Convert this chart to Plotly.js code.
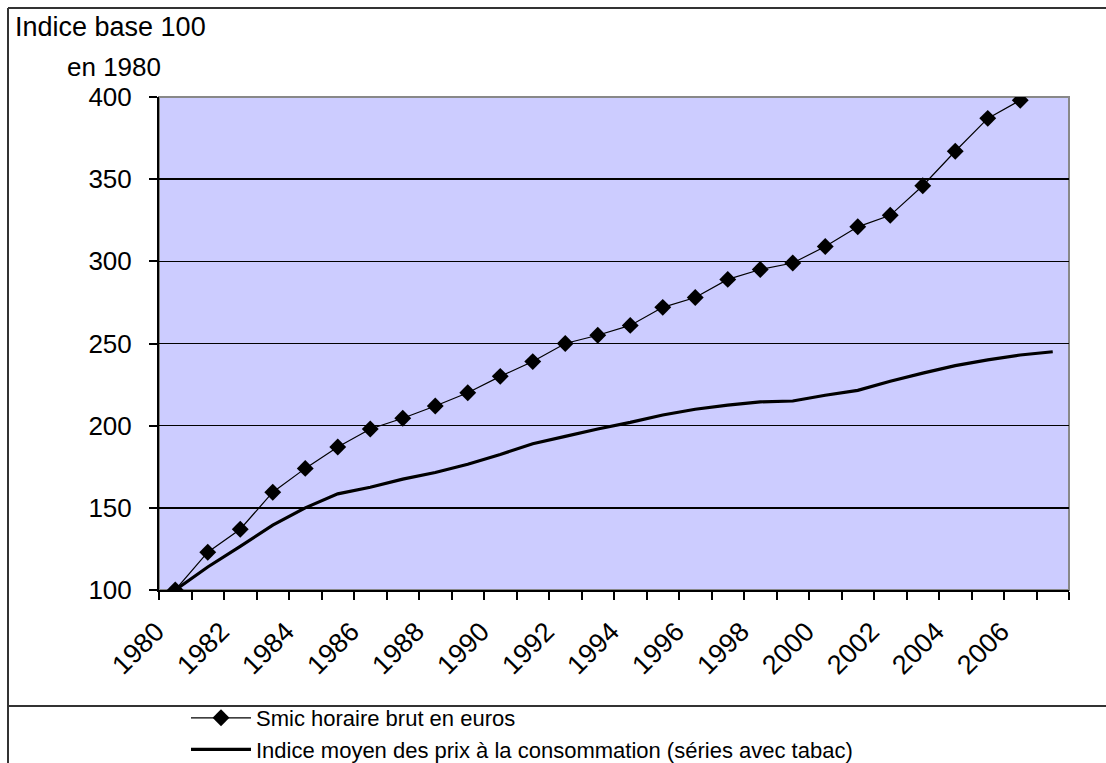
<!DOCTYPE html>
<html>
<head>
<meta charset="utf-8">
<script src="https://cdn.plot.ly/plotly-3.0.1.min.js"></script>
<style>html,body{margin:0;padding:0;background:#fff;}#chart{width:1106px;height:763px;}</style>
</head>
<body>
<div id="chart"></div>
<script>
// Categories (years)
const years = ['1980','1981','1982','1983','1984','1985','1986','1987','1988','1989','1990','1991','1992','1993','1994','1995','1996','1997','1998','1999','2000','2001','2002','2003','2004','2005','2006','2007'];
// Tick labels shown every other year
const tickLabels = ['1980','','1982','','1984','','1986','','1988','','1990','','1992','','1994','','1996','','1998','','2000','','2002','','2004','','2006',''];
// Series: Smic horaire brut (1980-2006)
const smicYears = ['1980','1981','1982','1983','1984','1985','1986','1987','1988','1989','1990','1991','1992','1993','1994','1995','1996','1997','1998','1999','2000','2001','2002','2003','2004','2005','2006'];
const smic = [100,123,137,159.5,174,187,198,204.5,212,220,230,239,250,255,261,272,278,289,295,299,309,321,328,346,367,387,398];
// Series: Indice moyen des prix (1980-2007)
const cpi = [100,114,126.5,139.5,150,158.5,162.5,167.5,171.5,176.5,182.5,189,193.5,198,202,206.5,210,212.5,214.5,215,218.5,221.5,227,232,236.5,240,243,245];
const yTitle1 = 'Indice base 100';
const yTitle2 = 'en 1980';
const smicName = 'Smic horaire brut en euros';
const cpiName = 'Indice moyen des prix à la consommation (séries avec tabac)';

const FONT = 'Liberation Sans, Arial, sans-serif';
const L = 159, R = 1069, T = 97, B = 590, W = 1106, H = 763;
const px = x => (x - L) / (R - L);
const py = y => (B - y) / (B - T);

const traces = [
  {x: smicYears, y: smic, name: smicName, type: 'scatter', mode: 'lines+markers',
   line: {color: '#000', width: 1.2}, marker: {symbol: 'diamond', size: 13, color: '#000'}},
  {x: years, y: cpi, name: cpiName, type: 'scatter', mode: 'lines',
   line: {color: '#000', width: 3.2}}
];

const layout = {
  width: W, height: H,
  margin: {l: L, r: W - R, t: T, b: H - B, pad: 0, autoexpand: false},
  paper_bgcolor: '#ffffff',
  plot_bgcolor: '#ccccff',
  font: {family: FONT, color: '#000', size: 24},
  showlegend: true,
  xaxis: {
    type: 'category', categoryorder: 'array', categoryarray: years,
    tickmode: 'array', tickvals: years, ticktext: tickLabels,
    tickson: 'boundaries', ticks: 'outside', ticklen: 8, tickwidth: 2, tickcolor: '#000',
    tickangle: -45, tickfont: {family: FONT, size: 27, color: '#000'},
    ticklabelstandoff: 13, ticklabelshift: -19,
    showline: true, linecolor: '#000', linewidth: 2, showgrid: false, zeroline: false,
    range: [-0.5, 27.5], fixedrange: true, automargin: false
  },
  yaxis: {
    range: [100, 400], dtick: 50, tick0: 100,
    ticks: 'outside', ticklen: 8, tickwidth: 2, tickcolor: '#000',
    tickfont: {family: FONT, size: 26, color: '#000'}, ticklabelstandoff: 12,
    showline: true, linecolor: '#000', linewidth: 2,
    showgrid: true, gridcolor: '#000', gridwidth: 1.6, zeroline: false, fixedrange: true,
    automargin: false
  },
  legend: {
    x: px(186), y: py(697), xanchor: 'left', yanchor: 'top',
    bgcolor: 'rgba(0,0,0,0)', font: {family: FONT, size: 22, color: '#000'},
    tracegroupgap: 0, itemwidth: 60
  },
  annotations: [
    {xref: 'paper', yref: 'paper', x: px(110), y: py(27), xanchor: 'center', yanchor: 'middle',
     text: yTitle1, showarrow: false, font: {family: FONT, size: 27, color: '#000'}},
    {xref: 'paper', yref: 'paper', x: px(114), y: py(67), xanchor: 'center', yanchor: 'middle',
     text: yTitle2, showarrow: false, font: {family: FONT, size: 26, color: '#000'}}
  ],
  shapes: [
    {type: 'rect', xref: 'paper', yref: 'paper', x0: 0, x1: 1, y0: 0, y1: 1,
     line: {color: '#888', width: 2}, layer: 'below'},
    {type: 'line', xref: 'paper', yref: 'paper', x0: px(8), x1: px(8), y0: py(8), y1: py(775),
     line: {color: '#333', width: 2}},
    {type: 'line', xref: 'paper', yref: 'paper', x0: px(8), x1: px(1115), y0: py(8), y1: py(8),
     line: {color: '#333', width: 2}},
    {type: 'line', xref: 'paper', yref: 'paper', x0: px(8), x1: px(1115), y0: py(706), y1: py(706),
     line: {color: '#333', width: 2}}
  ]
};

Plotly.newPlot('chart', traces, layout, {displayModeBar: false, staticPlot: true});
</script>
</body>
</html>
